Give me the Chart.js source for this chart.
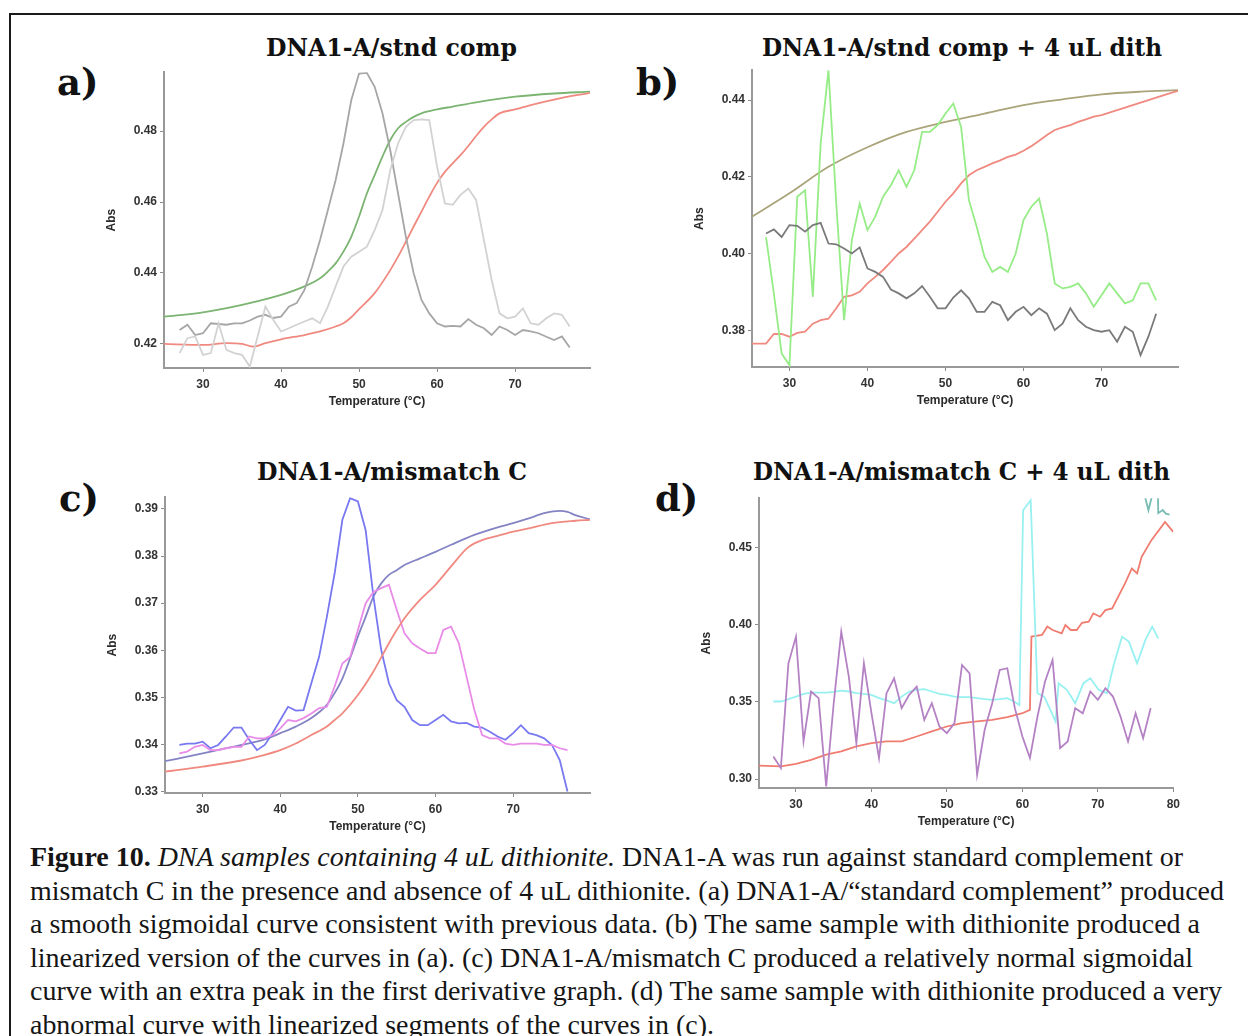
<!DOCTYPE html>
<html>
<head>
<meta charset="utf-8">
<script src="https://cdn.jsdelivr.net/npm/chart.js@4.4.1/dist/chart.umd.min.js"></script>
<style>
html, body { margin: 0; padding: 0; background: #fff; }
body { width: 1248px; height: 1036px; position: relative; overflow: hidden; }
#frame { position: absolute; left: 9px; top: 13px; width: 1300px; height: 1100px; border: 2px solid #1a1a1a; }
canvas { position: absolute; }
.title { position: absolute; font-family: "DejaVu Serif", serif; font-weight: bold; font-size: 25px; line-height: 26px; color: #111; white-space: nowrap; transform-origin: left center; }
.lab { position: absolute; font-family: "DejaVu Serif", serif; font-weight: bold; font-size: 37px; line-height: 37px; color: #111; }
#caption { position: absolute; left: 30px; top: 841px; font-family: "Liberation Serif", "Times New Roman", serif; font-size: 27px; line-height: 33.6px; color: #151515; }
#caption div { white-space: nowrap; transform-origin: left center; width: max-content; }
</style>
</head>
<body>
<div id="frame"></div>

<div class="title" style="left:266px;top:35px" data-w="251">DNA1-A/stnd comp</div>
<div class="title" style="left:762px;top:35px" data-w="400">DNA1-A/stnd comp + 4 uL dith</div>
<div class="title" style="left:257px;top:459px" data-w="270">DNA1-A/mismatch C</div>
<div class="title" style="left:753px;top:459px" data-w="417">DNA1-A/mismatch C + 4 uL dith</div>

<div class="lab" style="left:57px;top:64px">a)</div>
<div class="lab" style="left:636px;top:64px">b)</div>
<div class="lab" style="left:59px;top:480px">c)</div>
<div class="lab" style="left:655px;top:480px">d)</div>

<div id="caption">
  <div data-w="1153"><b>Figure 10.</b> <i>DNA samples containing 4 uL dithionite.</i> DNA1-A was run against standard complement or</div>
  <div data-w="1194">mismatch C in the presence and absence of 4 uL dithionite. (a) DNA1-A/“standard complement” produced</div>
  <div data-w="1170">a smooth sigmoidal curve consistent with previous data. (b) The same sample with dithionite produced a</div>
  <div data-w="1163">linearized version of the curves in (a). (c) DNA1-A/mismatch C produced a relatively normal sigmoidal</div>
  <div data-w="1192">curve with an extra peak in the first derivative graph. (d) The same sample with dithionite produced a very</div>
  <div data-w="684">abnormal curve with linearized segments of the curves in (c).</div>
</div>

<script>
// shared temperature grid for the noisy traces (°C)
const tNoisy = [27,28,29,30,31,32,33,34,35,36,37,38,39,40,41,42,43,44,45,46,47,48,49,50,51,52,
  53,54,55,56,57,58,59,60,61,62,63,64,65,66,67,68,69,70,71,72,73,74,75,76,77];

// a) DNA1-A/stnd comp
const aGreenT = [25,30,35,40,43,45,46,47,48,49,50,51,52,53,54,55,56,57,58,60,62,65,70,75,79.6];
const aGreen = [0.4277,0.4289,0.4310,0.4338,0.4362,0.4385,0.4404,0.4427,0.4460,0.4502,0.4559,0.4624,
  0.4676,0.4728,0.4775,0.4808,0.4826,0.4840,0.4850,0.4861,0.4869,0.4881,0.4897,0.4906,0.4911];
const aRedT = [25,30,33,35,36.5,38,40,43,45,47,48,49,50,52,54,55,56,57,58,59,60,61,62,63,64,65,66,67,68,70,72,75,79.6];
const aRed = [0.4200,0.4197,0.4202,0.4200,0.4192,0.4202,0.4213,0.4225,0.4235,0.4249,0.4258,0.4275,0.4298,
  0.4343,0.4408,0.4446,0.4488,0.4531,0.4573,0.4615,0.4654,0.4685,0.4709,0.4732,0.4758,0.4786,0.4812,
  0.4833,0.4850,0.4861,0.4873,0.4889,0.4908];
const aDarkGray = [0.4239,0.4254,0.4225,0.4230,0.4258,0.4256,0.4254,0.4258,0.4258,0.4266,0.4277,0.4282,
  0.4273,0.4277,0.4305,0.4315,0.4352,0.4418,0.4493,0.4577,0.4662,0.4765,0.4887,0.4962,0.4964,0.4925,
  0.4850,0.4746,0.4624,0.4502,0.4399,0.4324,0.4286,0.4258,0.4249,0.4251,0.4249,0.4270,0.4254,0.4244,
  0.4225,0.4249,0.4239,0.4225,0.4239,0.4235,0.4230,0.4220,0.4211,0.4221,0.4190];
const aLightGray = [0.4174,0.4216,0.4221,0.4169,0.4174,0.4258,0.4183,0.4174,0.4169,0.4136,0.4221,0.4305,
  0.4268,0.4235,0.4244,0.4254,0.4263,0.4272,0.4258,0.4305,0.4362,0.4418,0.4446,0.4460,0.4474,0.4521,
  0.4577,0.4690,0.4765,0.4812,0.4831,0.4833,0.4831,0.4700,0.4596,0.4592,0.4620,0.4638,0.4606,0.4493,
  0.4380,0.4286,0.4272,0.4277,0.4300,0.4258,0.4254,0.4272,0.4286,0.4282,0.4249];

// b) DNA1-A/stnd comp + 4 uL dith
const bOliveT = [25.2,30,35,40,45,50,55,60,65,70,75,79.8];
const bOlive = [0.4096,0.4157,0.4226,0.4277,0.4317,0.4343,0.4365,0.4387,0.4402,0.4415,0.4422,0.4426];
const bRedT = [25.2,26,27,28,29,30,31,32,33,34,35,36,37,38,39,40,41,42,43,44,45,46,47,48,49,50,51,52,
  53,54,55,56,57,58,59,60,61,62,63,64,65,66,67,68,69,70,72,74,76,78,79.8];
const bRed = [0.3765,0.3765,0.3765,0.3790,0.3790,0.3783,0.3793,0.3796,0.3817,0.3826,0.3830,0.3857,0.3887,
  0.3891,0.3900,0.3922,0.3939,0.3957,0.3978,0.4000,0.4017,0.4039,0.4061,0.4083,0.4109,0.4135,0.4157,
  0.4183,0.4204,0.4217,0.4226,0.4235,0.4243,0.4252,0.4258,0.4268,0.4280,0.4294,0.4309,0.4322,0.4329,
  0.4335,0.4343,0.4350,0.4357,0.4361,0.4374,0.4387,0.4400,0.4413,0.4424];
const bGreen = [0.4043,0.3896,0.3739,0.3709,0.4148,0.4165,0.3887,0.4287,0.4478,0.4130,0.3826,0.4035,
  0.4130,0.4061,0.4096,0.4148,0.4178,0.4217,0.4174,0.4217,0.4317,0.4317,0.4335,0.4365,0.4391,0.4330,
  0.4139,0.4070,0.3991,0.3952,0.3965,0.3952,0.4000,0.4087,0.4122,0.4143,0.4052,0.3922,0.3909,0.3913,
  0.3922,0.3896,0.3861,0.3891,0.3922,0.3896,0.3870,0.3878,0.3922,0.3922,0.3878];
const bGray = [0.4052,0.4063,0.4043,0.4074,0.4072,0.4057,0.4074,0.4080,0.4026,0.4024,0.4013,0.4000,
  0.4016,0.3961,0.3952,0.3939,0.3906,0.3896,0.3883,0.3896,0.3915,0.3887,0.3857,0.3857,0.3885,0.3904,
  0.3883,0.3848,0.3848,0.3874,0.3865,0.3826,0.3848,0.3861,0.3839,0.3857,0.3843,0.3800,0.3817,0.3857,
  0.3826,0.3809,0.3800,0.3796,0.3800,0.3770,0.3809,0.3796,0.3735,0.3783,0.3843];

// c) DNA1-A/mismatch C
const cSlateT = [25,30,35,38,40,42,44,46,47,48,49,50,51,52,53,54,55,56,58,60,62,65,68,70,72,74,76,77,78,79.9];
const cSlate = [0.3364,0.3381,0.3399,0.3411,0.3424,0.3438,0.3456,0.3484,0.3509,0.3540,0.3583,0.3629,
  0.3671,0.3714,0.3742,0.3760,0.3770,0.3781,0.3795,0.3809,0.3824,0.3845,0.3861,0.3870,0.3880,0.3891,
  0.3896,0.3894,0.3887,0.3878];
const cRedT = [25,30,35,38,40,42,44,46,47,48,50,52,54,55,56,58,60,62,64,65,66,68,70,72,75,78,79.9];
const cRed = [0.3342,0.3353,0.3366,0.3378,0.3388,0.3402,0.3420,0.3438,0.3452,0.3466,0.3505,0.3555,
  0.3615,0.3643,0.3668,0.3707,0.3739,0.3778,0.3816,0.3827,0.3834,0.3843,0.3852,0.3859,0.3870,0.3875,0.3877];
const cBlue = [0.3399,0.3402,0.3402,0.3406,0.3392,0.3399,0.3417,0.3436,0.3436,0.3410,0.3388,0.3399,
  0.3424,0.3452,0.3480,0.3472,0.3473,0.3530,0.3586,0.3671,0.3763,0.3877,0.3923,0.3916,0.3855,0.3714,
  0.3601,0.3530,0.3494,0.3480,0.3452,0.3441,0.3441,0.3452,0.3463,0.3449,0.3445,0.3446,0.3438,0.3436,
  0.3427,0.3417,0.3410,0.3424,0.3441,0.3424,0.3420,0.3413,0.3399,0.3367,0.3300];
const cPink = [0.3381,0.3385,0.3395,0.3399,0.3388,0.3388,0.3392,0.3395,0.3395,0.3417,0.3413,0.3413,
  0.3420,0.3434,0.3452,0.3449,0.3456,0.3466,0.3477,0.3480,0.3523,0.3572,0.3586,0.3643,0.3700,0.3724,
  0.3732,0.3739,0.3686,0.3636,0.3615,0.3604,0.3594,0.3594,0.3643,0.3650,0.3615,0.3544,0.3473,0.3420,
  0.3413,0.3413,0.3402,0.3399,0.3402,0.3402,0.3402,0.3399,0.3399,0.3392,0.3388];

// d) DNA1-A/mismatch C + 4 uL dith
const dRedT = [25,28,30,32,34,36,38,40,42,44,46,48,50,52,54,56,58,60,61,61.2,62.6,63.3,64,65.2,65.7,
  66.4,67.2,67.9,68.8,69.4,70.3,71,71.9,72.7,73.6,74.5,75.2,75.8,77.1,78.9,80];
const dRed = [0.3087,0.3082,0.3099,0.3125,0.3158,0.3179,0.3212,0.3233,0.3244,0.3244,0.3276,0.3309,
  0.3341,0.3363,0.3374,0.3384,0.3402,0.3427,0.3449,0.3924,0.3935,0.3989,0.3967,0.3945,0.3999,0.3967,
  0.3967,0.4014,0.4021,0.4075,0.4053,0.4096,0.4107,0.4183,0.4269,0.4366,0.4334,0.4442,0.4550,0.4668,0.4604];
const dCyanT = [27,28,29,30,31,32,33,34,35,36,37,38,39,40,41,42,43,44,45,46,47,48,49,50,51,52,53,54,
  55,56,57,58,59,59.6,60.1,61.1,62,62.9,64.4,64.8,65.9,67,68.1,69,70.1,71.2,72.1,73.2,74.1,75.2,76.3,77.2,78];
const dCyan = [0.3503,0.3503,0.3518,0.3535,0.3553,0.3561,0.3561,0.3561,0.3566,0.3574,0.3568,0.3557,
  0.3553,0.3546,0.3525,0.3510,0.3492,0.3535,0.3568,0.3579,0.3583,0.3568,0.3553,0.3546,0.3535,0.3531,
  0.3531,0.3525,0.3518,0.3514,0.3518,0.3525,0.3500,0.3480,0.4744,0.4809,0.3557,0.3535,0.3374,0.3622,
  0.3579,0.3492,0.3622,0.3654,0.3579,0.3557,0.3740,0.3924,0.3892,0.3751,0.3903,0.3989,0.3913];
const dPurple = [0.3147,0.3071,0.3751,0.3924,0.3244,0.3568,0.3525,0.2953,0.3492,0.3956,0.3665,0.3233,
  0.3751,0.3427,0.3136,0.3557,0.3654,0.3460,0.3546,0.3600,0.3384,0.3492,0.3341,0.3298,0.3363,0.3740,
  0.3686,0.3028,0.3320,0.3492,0.3708,0.3719,0.3460,0.3276,0.3136,0.3406,0.3633,0.3773,0.3201,0.3244,
  0.3460,0.3427,0.3568,0.3514,0.3589,0.3535,0.3406,0.3244,0.3427,0.3266,0.3460];
const dTealT = [75.9,76.7,77.5,77.95,78.0,78.6,79.0,79.5];
const dTeal = [0.490,0.4744,0.490,0.490,0.4725,0.4745,0.4722,0.4715];

// axis ticks
const xTicks = [30,40,50,60,70];
const xTicksD = [30,40,50,60,70,80];
const yTicksA = [0.42,0.44,0.46,0.48];
const yTicksB = [0.38,0.40,0.42,0.44];
const yTicksC = [0.33,0.34,0.35,0.36,0.37,0.38,0.39];
const yTicksD = [0.30,0.35,0.40,0.45];

const tickFont = { family: "Liberation Sans, Arial, sans-serif", weight: "bold", size: 12 };

function line(t, v, color, smooth) {
  return {
    data: t.map((x, i) => ({ x, y: v[i] })),
    borderColor: color,
    borderWidth: 1.8,
    pointRadius: 0,
    fill: false,
    tension: smooth ? 0.4 : 0,
    cubicInterpolationMode: smooth ? "monotone" : "default"
  };
}

function makePanel(box, xr, yr, xt, yt, datasets) {
  const cv = document.createElement("canvas");
  const w = box.r - box.l + 80, h = box.b - box.t + 57;
  cv.width = w; cv.height = h;
  cv.style.left = (box.l - 70) + "px";
  cv.style.top = (box.t - 10) + "px";
  cv.style.width = w + "px"; cv.style.height = h + "px";
  document.body.appendChild(cv);

  new Chart(cv.getContext("2d"), {
    type: "line",
    data: { datasets },
    options: {
      responsive: false,
      animation: false,
      devicePixelRatio: 1,
      layout: { padding: { left: 10, top: 10, right: 10, bottom: 5 } },
      plugins: { legend: { display: false }, tooltip: { enabled: false } },
      scales: {
        x: {
          type: "linear", min: xr[0], max: xr[1],
          afterBuildTicks: s => { s.ticks = xt.map(v => ({ value: v })); },
          afterFit: s => { s.height = 42; },
          ticks: { font: tickFont, color: "#333", padding: 5, maxRotation: 0, autoSkip: false, callback: v => v },
          grid: { drawOnChartArea: false, drawTicks: true, tickLength: 4, color: "#8a8a8a" },
          border: { color: "#999", width: 2 },
          title: { display: true, text: "Temperature (°C)", font: tickFont, color: "#2a2a2a", padding: { top: 0, bottom: 1 } }
        },
        y: {
          type: "linear", min: yr[0], max: yr[1],
          afterBuildTicks: s => { s.ticks = yt.map(v => ({ value: v })); },
          afterFit: s => { s.width = 60; },
          ticks: { font: tickFont, color: "#333", padding: 3, autoSkip: false, callback: v => v.toFixed(2) },
          grid: { drawOnChartArea: false, drawTicks: true, tickLength: 4, color: "#8a8a8a" },
          border: { color: "#999", width: 2 },
          title: { display: true, text: "Abs", font: tickFont, color: "#2a2a2a", padding: { top: 0, bottom: 0 } }
        }
      }
    }
  });
}

makePanel({ l: 164, r: 590, t: 72, b: 368 }, [25, 79.6], [0.4132, 0.4966], xTicks, yTicksA, [
  line(tNoisy, aLightGray, "#d2d2d2", false),
  line(tNoisy, aDarkGray, "#a6a6a6", false),
  line(aRedT, aRed, "#f08a80", true),
  line(aGreenT, aGreen, "#7cb472", true)
]);

makePanel({ l: 752, r: 1178, t: 70, b: 367 }, [25.2, 79.8], [0.3704, 0.4478], xTicks, yTicksB, [
  line(tNoisy, bGray, "#7a7a7a", false),
  line(tNoisy, bGreen, "#96ec86", false),
  line(bRedT, bRed, "#f08a80", false),
  line(bOliveT, bOlive, "#aaa47a", true)
]);

makePanel({ l: 165, r: 590, t: 497, b: 793 }, [25.15, 79.9], [0.3297, 0.3925], xTicks, yTicksC, [
  line(cRedT, cRed, "#f08a80", true),
  line(tNoisy, cPink, "#e88ce8", false),
  line(tNoisy, cBlue, "#7878f0", false),
  line(cSlateT, cSlate, "#8484c4", true)
]);

makePanel({ l: 759, r: 1175, t: 498, b: 788 }, [25.1, 80], [0.2942, 0.4822], xTicksD, yTicksD, [
  line(tNoisy, dPurple, "#b482c4", false),
  line(dCyanT, dCyan, "#98f0f0", false),
  line(dTealT, dTeal, "#78bcb4", false),
  line(dRedT, dRed, "#f07c70", false)
]);

// stretch text blocks to the widths measured on the reference
document.querySelectorAll("[data-w]").forEach(el => {
  const natural = el.getBoundingClientRect().width;
  if (natural > 0) el.style.transform = "scaleX(" + (Number(el.dataset.w) / natural) + ")";
});
</script>
</body>
</html>
